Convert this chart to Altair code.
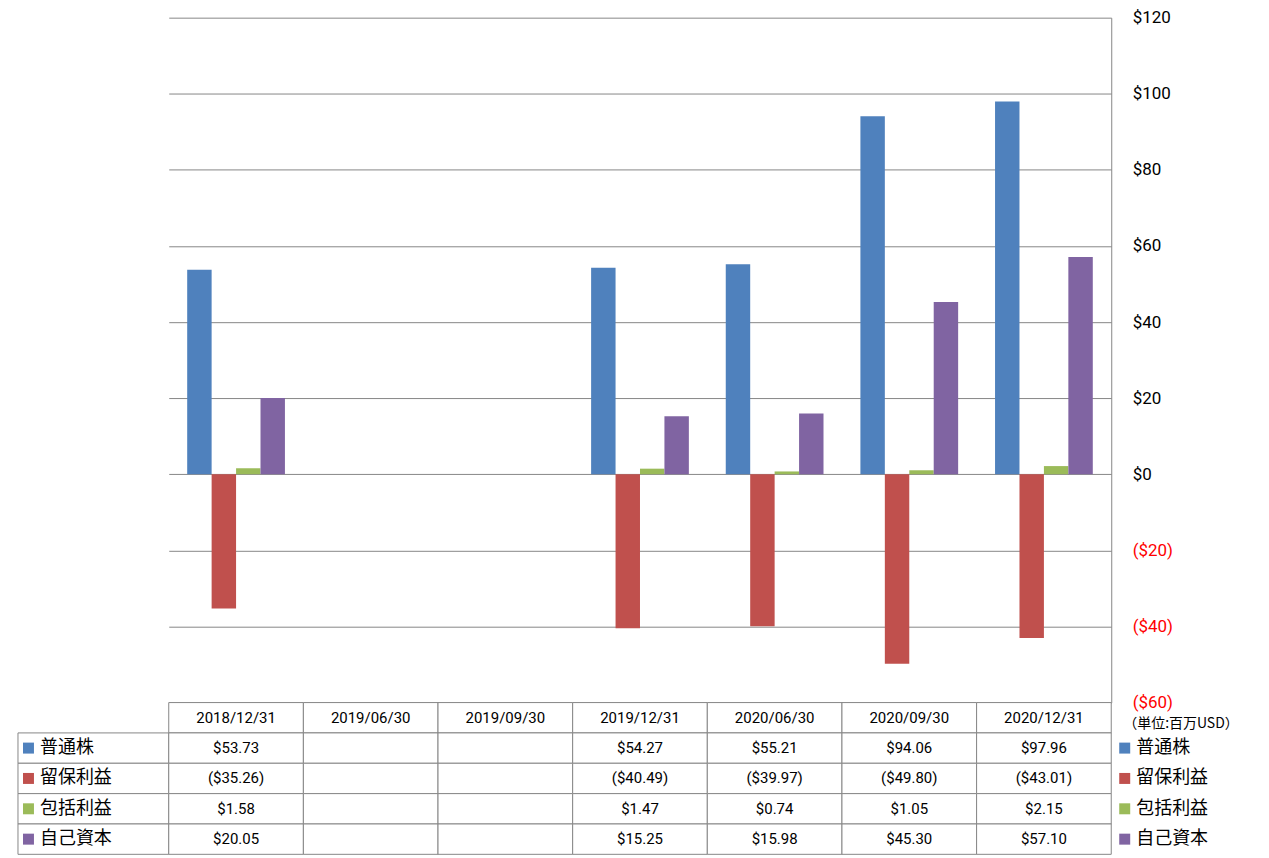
import altair as alt
import pandas as pd

# ---- data ----
categories = ["2018/12/31", "2019/06/30", "2019/09/30", "2019/12/31",
              "2020/06/30", "2020/09/30", "2020/12/31"]
series = ["普通株", "留保利益", "包括利益", "自己資本"]
common_stock = [53.73, None, None, 54.27, 55.21, 94.06, 97.96]
retained_earnings = [-35.26, None, None, -40.49, -39.97, -49.80, -43.01]
comprehensive_income = [1.58, None, None, 1.47, 0.74, 1.05, 2.15]
equity = [20.05, None, None, 15.25, 15.98, 45.30, 57.10]
colors = ["#4F81BD", "#C0504D", "#9BBB59", "#8064A2"]
y_ticks = [-60, -40, -20, 0, 20, 40, 60, 80, 100, 120]
unit_label = "（単位:百万USD）"
header_key = "header"

GRID = "#878787"
NUM_FONT = "Roboto"
JP_FONT = "Noto Sans CJK JP"

values_by_series = dict(zip(series, [common_stock, retained_earnings,
                                     comprehensive_income, equity]))


def fmt(v):
    if v is None:
        return ""
    return f"(${abs(v):.2f})" if v < 0 else f"${v:.2f}"


bar_rows = []
cell_rows = []
for i, c in enumerate(categories):
    cell_rows.append({"date": c, "row": header_key, "text": c})
    for s in series:
        v = values_by_series[s][i]
        if v is not None:
            bar_rows.append({"date": c, "series": s, "value": v})
        cell_rows.append({"date": c, "row": s, "text": fmt(v)})
bar_df = pd.DataFrame(bar_rows)
cell_df = pd.DataFrame(cell_rows)
label_df = pd.DataFrame({"row": series})
row_keys = [header_key] + series

color_scale = alt.Scale(domain=series, range=colors)
x_scale = alt.Scale(domain=categories, paddingInner=0, paddingOuter=0)
row_scale = alt.Scale(domain=row_keys, paddingInner=0, paddingOuter=0)

PLOT_W = 944
PLOT_H = 686
LEFT_W = 151
TABLE_H = 152
RIGHT_W = 150

# ---- top: bar chart ----
bars = alt.Chart(bar_df).mark_bar().encode(
    x=alt.X("date:N", scale=x_scale, axis=None),
    xOffset=alt.XOffset("series:N",
                        scale=alt.Scale(domain=series, paddingInner=0, paddingOuter=0.755)),
    y=alt.Y("value:Q",
            scale=alt.Scale(domain=[-60, 120], nice=False, zero=True),
            axis=alt.Axis(orient="right", values=y_ticks, grid=True,
                          gridColor=GRID, gridWidth=1, domainColor=GRID,
                          ticks=False, labelPadding=21, labelFont=NUM_FONT,
                          labelFontSize=17,
                          labelColor={"condition": {"test": "datum.value < 0", "value": "#FF0000"},
                                      "value": "black"},
                          labelExpr="datum.value < 0 ? '($' + abs(datum.value) + ')' : '$' + datum.value",
                          title=None)),
    color=alt.Color("series:N", scale=color_scale, legend=None),
).properties(width=PLOT_W, height=PLOT_H)

spacer_left = alt.Chart(pd.DataFrame({"a": [0]})).mark_text(text="").properties(
    width=LEFT_W, height=PLOT_H)
spacer_right = alt.Chart(pd.DataFrame({"a": [0]})).mark_text(text="").properties(
    width=RIGHT_W, height=PLOT_H)

# ---- bottom: data table ----
tbase = alt.Chart(cell_df).encode(
    x=alt.X("date:N", scale=x_scale, axis=None),
    y=alt.Y("row:N", scale=row_scale, axis=None),
)
tcells = tbase.mark_rect(fill="white", stroke=GRID, strokeWidth=1)
ttext = tbase.mark_text(font=NUM_FONT, fontSize=15, color="black").encode(text="text:N")
table = (tcells + ttext).properties(width=PLOT_W, height=TABLE_H)

lbase = alt.Chart(label_df).encode(y=alt.Y("row:N", scale=row_scale, axis=None))
lcells = lbase.mark_rect(fill="white", stroke=GRID, strokeWidth=1).encode(
    x=alt.value(0), x2=alt.value(LEFT_W))
lsq = lbase.mark_square(size=121, filled=True, opacity=1).encode(
    x=alt.value(10.5), color=alt.Color("row:N", scale=color_scale, legend=None))
ltxt = lbase.mark_text(align="left", font=JP_FONT, fontSize=18, color="black").encode(
    x=alt.value(22), text="row:N")
left_labels = (lcells + lsq + ltxt).properties(width=LEFT_W, height=TABLE_H)

rbase = alt.Chart(label_df).encode(y=alt.Y("row:N", scale=row_scale, axis=None))
rsq = rbase.mark_square(size=121, filled=True, opacity=1).encode(
    x=alt.value(13.5), color=alt.Color("row:N", scale=color_scale, legend=None))
rtxt = rbase.mark_text(align="left", font=JP_FONT, fontSize=18, color="black").encode(
    x=alt.value(25), text="row:N")
unit = alt.Chart(pd.DataFrame({"row": [header_key], "t": [unit_label]})).mark_text(
    align="left", font=JP_FONT, fontSize=14, color="black", dy=6).encode(
    y=alt.Y("row:N", scale=row_scale, axis=None), x=alt.value(12), text="t:N")
right_legend = (rsq + rtxt + unit).properties(width=RIGHT_W, height=TABLE_H)

chart = alt.concat(
    spacer_left, bars, spacer_right,
    left_labels, table, right_legend,
    columns=3, spacing=0, bounds="flush",
).properties(
    padding={"top": 0, "left": 9, "right": 0, "bottom": 0},
    background="white",
).configure_view(stroke=None)

chart.save("out.html", embed_options={"renderer": "svg", "actions": False})
